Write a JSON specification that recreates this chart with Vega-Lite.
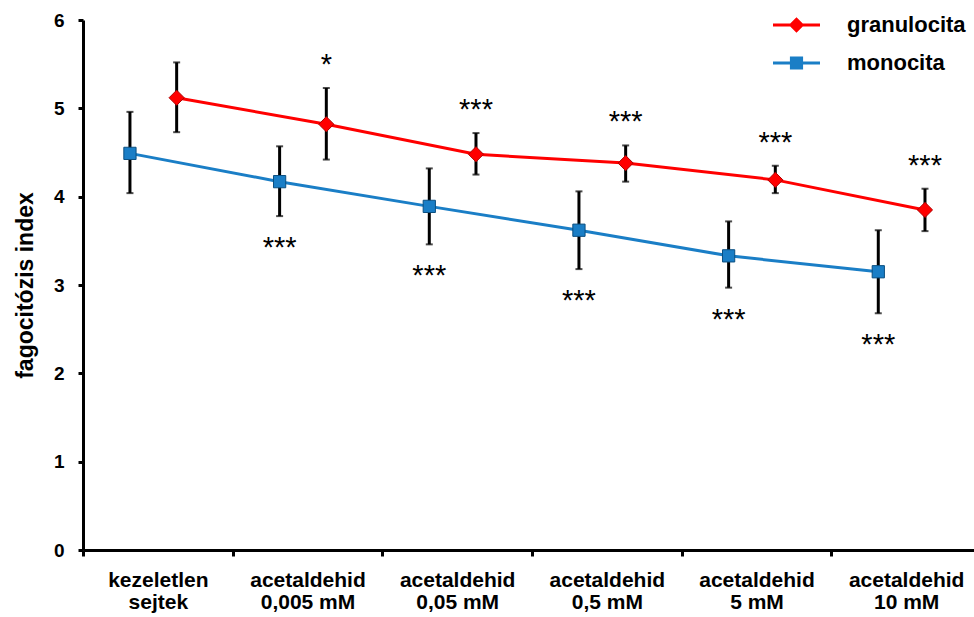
{
  "$schema": "https://vega.github.io/schema/vega-lite/v6.json",
  "width": 898,
  "height": 530,
  "autosize": {"type": "none"},
  "padding": {"left": 83, "top": 20, "right": -7, "bottom": 67},
  "background": "white",
  "config": {"view": {"stroke": null}, "font": "Liberation Sans"},
  "data": {
    "values": [
      {"cat": "kezeletlen sejtek", "cell": "granulocita", "mean": 5.12, "lo": 4.73, "hi": 5.52, "sig": ""},
      {"cat": "acetaldehid 0,005 mM", "cell": "granulocita", "mean": 4.82, "lo": 4.42, "hi": 5.23, "sig": "*"},
      {"cat": "acetaldehid 0,05 mM", "cell": "granulocita", "mean": 4.48, "lo": 4.25, "hi": 4.72, "sig": "***"},
      {"cat": "acetaldehid 0,5 mM", "cell": "granulocita", "mean": 4.38, "lo": 4.17, "hi": 4.58, "sig": "***"},
      {"cat": "acetaldehid 5 mM", "cell": "granulocita", "mean": 4.19, "lo": 4.04, "hi": 4.35, "sig": "***"},
      {"cat": "acetaldehid 10 mM", "cell": "granulocita", "mean": 3.85, "lo": 3.61, "hi": 4.09, "sig": "***"},
      {"cat": "kezeletlen sejtek", "cell": "monocita", "mean": 4.49, "lo": 4.04, "hi": 4.96, "sig": ""},
      {"cat": "acetaldehid 0,005 mM", "cell": "monocita", "mean": 4.17, "lo": 3.78, "hi": 4.57, "sig": "***"},
      {"cat": "acetaldehid 0,05 mM", "cell": "monocita", "mean": 3.89, "lo": 3.46, "hi": 4.32, "sig": "***"},
      {"cat": "acetaldehid 0,5 mM", "cell": "monocita", "mean": 3.62, "lo": 3.18, "hi": 4.06, "sig": "***"},
      {"cat": "acetaldehid 5 mM", "cell": "monocita", "mean": 3.33, "lo": 2.97, "hi": 3.72, "sig": "***"},
      {"cat": "acetaldehid 10 mM", "cell": "monocita", "mean": 3.15, "lo": 2.68, "hi": 3.62, "sig": "***"}
    ]
  },
  "encoding": {
    "x": {
      "field": "cat",
      "type": "ordinal",
      "scale": {
        "type": "band",
        "paddingInner": 0,
        "paddingOuter": 0,
        "domain": ["kezeletlen sejtek", "acetaldehid 0,005 mM", "acetaldehid 0,05 mM", "acetaldehid 0,5 mM", "acetaldehid 5 mM", "acetaldehid 10 mM"]
      },
      "axis": {
        "title": null,
        "labelAngle": 0,
        "labelFont": "Liberation Sans",
        "labelFontSize": 21,
        "labelFontWeight": "bold",
        "labelColor": "black",
        "labelExpr": "[substring(datum.label, 0, indexof(datum.label, ' ')), substring(datum.label, indexof(datum.label, ' ') + 1)]",
        "labelLineHeight": 22,
        "labelPadding": 13,
        "labelBaseline": "top",
        "tickBand": "extent",
        "tickSize": 6,
        "tickWidth": 3,
        "tickColor": "black",
        "domainColor": "black",
        "domainWidth": 3,
        "grid": false
      }
    },
    "xOffset": {
      "field": "cell",
      "type": "nominal",
      "scale": {"domain": ["monocita", "granulocita"], "range": [23.6, 117]}
    }
  },
  "layer": [
    {
      "mark": {"type": "line", "strokeWidth": 3},
      "encoding": {
        "y": {
          "field": "mean",
          "type": "quantitative",
          "scale": {"domain": [0, 6], "nice": false},
          "axis": {
            "title": "fagocitózis index",
            "titleFont": "Liberation Sans",
            "titleFontSize": 23,
            "titleFontWeight": "bold",
            "titleColor": "black",
            "titlePadding": 16,
            "values": [0, 1, 2, 3, 4, 5, 6],
            "format": "d",
            "labelFont": "Liberation Sans",
            "labelFontSize": 19,
            "labelFontWeight": "bold",
            "labelColor": "black",
            "labelPadding": 14,
            "tickSize": 5,
            "tickWidth": 3,
            "tickColor": "black",
            "domainColor": "black",
            "domainWidth": 3,
            "grid": false
          }
        },
        "color": {
          "field": "cell",
          "type": "nominal",
          "scale": {"domain": ["granulocita", "monocita"], "range": ["#FF0000", "#1A7EC6"]},
          "legend": {
            "title": null,
            "orient": "none",
            "legendX": 690,
            "legendY": -18.5,
            "padding": 0,
            "labelFont": "Liberation Sans",
            "labelFontSize": 22,
            "labelFontWeight": "bold",
            "labelColor": "black",
            "labelOffset": 27,
            "symbolSize": 2209,
            "symbolStrokeWidth": 0,
            "symbolOpacity": 1,
            "rowPadding": 3,
            "encode": {
              "symbols": {
                "update": {
                  "shape": {"signal": "datum.value === 'granulocita' ? 'M-1,-0.064H1V0.064H-1Z M0,-0.33L0.33,0L0,0.33L-0.33,0Z' : 'M-1,-0.064H1V0.064H-1Z M-0.28,-0.28H0.28V0.28H-0.28Z'"},
                  "fill": {"scale": "color", "field": "value"},
                  "size": {"value": 2209},
                  "strokeWidth": {"value": 0},
                  "opacity": {"value": 1}
                }
              }
            }
          }
        }
      }
    },
    {
      "mark": {"type": "rule", "strokeWidth": 3, "color": "black"},
      "encoding": {
        "y": {"field": "lo", "type": "quantitative"},
        "y2": {"field": "hi"}
      }
    },
    {
      "mark": {"type": "tick", "orient": "horizontal", "size": 7, "thickness": 2, "color": "black"},
      "encoding": {"y": {"field": "lo", "type": "quantitative"}}
    },
    {
      "mark": {"type": "tick", "orient": "horizontal", "size": 7, "thickness": 2, "color": "black"},
      "encoding": {"y": {"field": "hi", "type": "quantitative"}}
    },
    {
      "transform": [{"filter": "datum.cell === 'granulocita'"}],
      "mark": {"type": "point", "shape": "diamond", "size": 230, "filled": true, "opacity": 1, "stroke": "#B00000", "strokeWidth": 1},
      "encoding": {
        "y": {"field": "mean", "type": "quantitative"},
        "color": {"field": "cell", "type": "nominal"}
      }
    },
    {
      "transform": [{"filter": "datum.cell === 'monocita'"}],
      "mark": {"type": "point", "shape": "square", "size": 150, "filled": true, "opacity": 1, "stroke": "#0B4F80", "strokeWidth": 1},
      "encoding": {
        "y": {"field": "mean", "type": "quantitative"},
        "color": {"field": "cell", "type": "nominal"}
      }
    },
    {
      "transform": [{"filter": "datum.cell === 'granulocita' && datum.sig !== ''"}],
      "mark": {"type": "text", "dy": -14, "fontSize": 29, "baseline": "alphabetic", "font": "Liberation Sans", "color": "black"},
      "encoding": {
        "y": {"field": "hi", "type": "quantitative"},
        "text": {"field": "sig"}
      }
    },
    {
      "transform": [{"filter": "datum.cell === 'monocita' && datum.sig !== ''"}],
      "mark": {"type": "text", "dy": 41, "fontSize": 29, "baseline": "alphabetic", "font": "Liberation Sans", "color": "black"},
      "encoding": {
        "y": {"field": "lo", "type": "quantitative"},
        "text": {"field": "sig"}
      }
    }
  ]
}
